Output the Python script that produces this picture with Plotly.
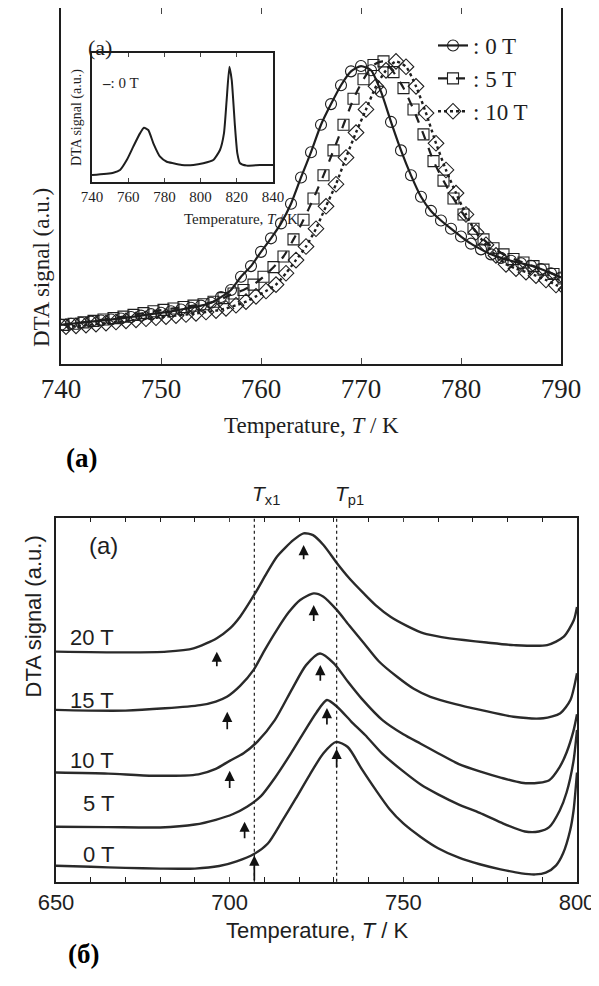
import plotly.graph_objects as go

# page has an 8px body margin: the figure is sized so that it fills the window exactly
OFF = 8
W, H = 599 - OFF, 986 - OFF

# ---------------- Panel (a): main plot data ----------------
T_main = list(range(740, 791))
dta_0T = [11.0, 11.3, 11.6, 11.9, 12.2, 12.5, 12.8, 13.2, 13.6, 14.0, 14.4, 14.8, 15.3, 15.8, 16.4, 17.2,
          18.8, 20.8, 24.5, 27.5, 31.5, 35.3, 39.5, 45.0, 52.4, 59.5, 67.2, 73.0, 78.3, 82.2, 83.7, 82.5,
          76.5, 68.0, 60.0, 53.0, 47.0, 43.0, 40.3, 38.0, 35.8, 33.8, 32.2, 30.8, 29.8, 29.0, 28.3, 27.6,
          26.7, 25.5, 24.3]
dta_5T = [11.0, 11.3, 11.7, 12.1, 12.5, 12.9, 13.3, 13.8, 14.3, 14.8, 15.2, 15.6, 16.0, 16.4, 16.8, 17.5,
          18.5, 19.8, 20.8, 22.3, 24.5, 27.2, 30.2, 35.0, 40.5, 46.5, 53.0, 60.0, 67.2, 74.5, 80.0, 84.0,
          85.0, 82.0, 77.5, 71.5, 64.5, 57.0, 51.5, 46.5, 42.0, 38.0, 35.0, 32.5, 30.8, 29.5, 28.5, 27.5,
          26.5, 25.3, 24.0]
dta_10T = [10.5, 10.7, 10.9, 11.2, 11.5, 11.8, 12.1, 12.4, 12.7, 13.0, 13.3, 13.6, 13.9, 14.2, 14.6, 15.0,
           15.6, 16.5, 17.5, 19.0, 20.5, 22.3, 25.5, 29.2, 33.0, 38.0, 44.3, 50.5, 58.0, 65.0, 71.5, 78.0,
           82.5, 85.0, 83.5, 78.0, 70.5, 62.0, 54.5, 48.0, 42.0, 37.0, 33.5, 30.5, 28.0, 26.8, 25.8, 24.8,
           23.6, 22.2, 21.0]

# ---------------- Panel (a): inset data ----------------
T_inset = [740, 751.8, 755.5, 759.2, 762.8, 766.5, 768.7, 771.1, 773.9, 777.6, 781.3, 784.9, 789.6, 796,
           801.5, 807, 810.7, 812.9, 814.4, 815.9, 817.2, 819, 820.3, 821.8, 825.5, 832.8, 840]
dta_inset = [5.4, 7.2, 9.3, 17, 27.4, 37.7, 42.1, 40.3, 30, 19.6, 15.7, 14.5, 13.2, 13.2, 14.5, 17, 24.8,
             37.7, 63.6, 89.4, 79, 42.9, 22.2, 14.5, 12.7, 13.2, 13.2]

# ---------------- Panel (б) data ----------------
T_b0 = [650, 660, 670, 680, 690, 697, 702, 707, 711, 715, 719, 723, 727, 730.7, 734, 738, 742, 746, 750,
        755, 760, 766, 772, 778, 784, 788, 791, 794, 796, 798, 799, 800]
v_b0 = [4.4, 4.1, 3.8, 3.6, 3.6, 4.3, 5.6, 7.6, 10.5, 16.5, 22.8, 29.3, 35.3, 38.4, 37.0, 31.0, 25.3, 20.0,
        16.0, 12.3, 9.2, 6.6, 4.8, 3.4, 2.3, 2.0, 2.5, 4.5, 7.8, 14.0, 19.5, 30.0]
T_b5 = [650, 665, 680, 690, 696, 701, 705, 709, 713, 717, 721, 725, 728, 731, 735, 739, 744, 750, 755, 760,
        766, 772, 778, 785, 789, 792, 795, 797, 799, 800]
v_b5 = [15.1, 15.0, 14.9, 15.7, 17.0, 18.6, 20.6, 23.5, 28.5, 34.3, 40.5, 46.5, 49.9, 48.0, 44.0, 40.3,
        35.1, 30.3, 26.7, 24.0, 21.2, 18.9, 16.3, 13.8, 13.8, 15.0, 19.5, 24.5, 33.2, 41.7]
T_b10 = [650, 665, 678, 691, 696, 700, 704, 708, 713, 718, 722, 726, 730, 734, 738, 744, 750, 755, 760, 766,
         772, 778, 784, 789, 792, 795, 797, 799, 800]
v_b10 = [30, 29.7, 29.1, 29.5, 31.0, 33.2, 35.3, 38.5, 44.4, 53.0, 59.5, 62.7, 60.0, 55.0, 50.3, 44.4, 40.5,
         37.9, 35.3, 32.3, 30.3, 28.6, 27.2, 27.2, 27.9, 31.5, 35.5, 41.5, 46.0]
T_b15 = [650, 670, 691.5, 696, 699.2, 703, 706.9, 710, 713.6, 717, 720.3, 724.2, 727, 730.9, 734.5, 738.6,
         743, 748.2, 753, 757.8, 765, 772.2, 781.7, 790.3, 795.2, 798.1, 800]
v_b15 = [47.2, 47.0, 48.5, 49.5, 50.8, 53.8, 58.2, 63.5, 69.2, 74.0, 77.4, 79.2, 78.3, 74.6, 70.3, 65.6,
         60.5, 56.3, 53.0, 50.8, 48.8, 47.2, 45.3, 44.9, 46.3, 49.9, 57.3]
T_b20 = [650, 670, 681.9, 689.6, 696.3, 700, 703, 707.3, 710.5, 713.6, 718.4, 721.3, 724, 727, 730.9, 734.5,
         738.6, 742, 746.3, 751, 755.9, 761, 767.4, 774, 781.8, 791.4, 796.2, 799.1, 800]
v_b20 = [63.2, 63.0, 63.2, 64.1, 66.9, 69.5, 72.8, 79.2, 84.5, 89.3, 93.9, 95.7, 95.2, 92.5, 87.5, 83.3,
         79.2, 76.0, 72.8, 70.3, 68.2, 67.2, 66.4, 65.7, 65.0, 65.0, 67.3, 71.9, 75.5]

field_labels = ["20 T", "15 T", "10 T", "5 T", "0 T"]
label_v = [67.0, 49.9, 33.2, 21.6, 7.6]
label_T = 667.3

# arrows (order: 0, 5, 10, 15, 20 T)
tx_T = [707.1, 704.3, 700.0, 699.3, 696.3]
tx_tip = [7.2, 16.5, 30.5, 46.7, 63.2]
tx_tail = [0.0, 11.5, 25.3, 41.5, 58.8]
tp_T = [730.8, 728.0, 726.1, 724.2, 721.3]
tp_tip = [36.5, 47.7, 59.5, 76.0, 92.5]
tp_tail = [31.0, 42.8, 54.8, 71.2, 88.2]

T_x1 = 707.1
T_p1 = 730.8

main_ticks = [740, 750, 760, 770, 780, 790]
inset_ticks = [740, 760, 780, 800, 820, 840]

SERIF = "Liberation Serif"
SANS = "Liberation Sans"
INK = "#1e1e1e"


def px2x(p):
    return (p - OFF) / W


def py2y(p):
    return 1 - (p - OFF) / H


fig = go.Figure()

# top main traces
fig.add_trace(go.Scatter(x=T_main, y=dta_0T, mode="lines+markers", name=": 0 T",
                         line=dict(color=INK, width=2.2, shape="spline", smoothing=0.6),
                         marker=dict(symbol="circle-open", size=11, color=INK, line=dict(width=1.1)),
                         xaxis="x", yaxis="y"))
fig.add_trace(go.Scatter(x=[t + 0.25 for t in T_main], y=dta_5T, mode="lines+markers", name=": 5 T",
                         line=dict(color=INK, width=2.2, dash="dash", shape="spline", smoothing=0.6),
                         marker=dict(symbol="square-open", size=11, color=INK, line=dict(width=1.1)),
                         xaxis="x", yaxis="y"))
fig.add_trace(go.Scatter(x=[t + 0.5 for t in T_main], y=dta_10T, mode="lines+markers", name=": 10 T",
                         line=dict(color=INK, width=2.4, dash="dot", shape="spline", smoothing=0.6),
                         marker=dict(symbol="diamond-open", size=12, color=INK, line=dict(width=1.1)),
                         xaxis="x", yaxis="y"))

# inset trace
fig.add_trace(go.Scatter(x=T_inset, y=dta_inset, mode="lines", showlegend=False,
                         line=dict(color=INK, width=2, shape="spline", smoothing=0.5),
                         xaxis="x2", yaxis="y2"))

# bottom traces
for tt, vv in [(T_b0, v_b0), (T_b5, v_b5), (T_b10, v_b10), (T_b15, v_b15), (T_b20, v_b20)]:
    fig.add_trace(go.Scatter(x=tt, y=vv, mode="lines", showlegend=False,
                             line=dict(color="#2a2a2a", width=2.4, shape="spline", smoothing=0.7),
                             xaxis="x3", yaxis="y3"))

frame = dict(showline=True, linecolor=INK, linewidth=1.5, mirror="ticks",
             showgrid=False, zeroline=False, automargin=False)

fig.update_layout(
    width=W, height=H, autosize=False,
    margin=dict(l=0, r=0, t=0, b=0, pad=0, autoexpand=False),
    paper_bgcolor="white", plot_bgcolor="white",
    xaxis=dict(domain=[px2x(61), px2x(561)], range=[740, 790], tickvals=main_ticks, ticks="inside",
               ticklen=6, tickwidth=1, tickfont=dict(family=SERIF, size=27, color=INK),
               anchor="y", **frame),
    yaxis=dict(domain=[py2y(364), py2y(8)], range=[0, 100], showticklabels=False,
               ticks="", anchor="x", **frame),
    xaxis2=dict(domain=[px2x(92), px2x(273)], range=[740, 840], tickvals=inset_ticks, ticks="inside",
                ticklen=4, tickwidth=1, tickfont=dict(family=SERIF, size=15, color=INK),
                anchor="y2", **frame),
    yaxis2=dict(domain=[py2y(182), py2y(53)], range=[0, 100], showticklabels=False,
                ticks="", anchor="x2", **frame),
    xaxis3=dict(domain=[px2x(56), px2x(577)], range=[650, 800], dtick=50, tick0=650, ticks="inside",
                ticklen=5, tickwidth=1, tickfont=dict(family=SANS, size=22, color=INK),
                minor=dict(dtick=10, tick0=650, ticks="inside", ticklen=5, tickwidth=1, tickcolor=INK,
                           showgrid=False),
                anchor="y3", **frame),
    yaxis3=dict(domain=[py2y(881.7), py2y(517.7)], range=[0, 100], showticklabels=False,
                ticks="", anchor="x3", **frame),
    legend=dict(x=px2x(433), y=py2y(24), xanchor="left", yanchor="top",
                bgcolor="rgba(0,0,0,0)", borderwidth=0, tracegroupgap=0,
                font=dict(family=SERIF, size=23, color=INK), itemwidth=30),
    showlegend=True,
)

ann = []
# top panel texts
ann.append(dict(text="DTA signal (a.u.)", x=px2x(27), y=py2y(186), xref="paper", yref="paper",
                textangle=-90, showarrow=False, font=dict(family=SERIF, size=23, color=INK)))
ann.append(dict(text="Temperature, <i>T</i> / K", x=px2x(311), y=py2y(425), xref="paper", yref="paper",
                showarrow=False, font=dict(family=SERIF, size=23, color=INK)))
ann.append(dict(text="(a)", x=px2x(86), y=py2y(33), xref="paper", yref="paper",
                showarrow=False, font=dict(family=SERIF, size=22, color=INK)))
ann.append(dict(text="<b>(a)</b>", x=px2x(64), y=py2y(458), xref="paper", yref="paper",
                showarrow=False, font=dict(family=SERIF, size=27, color="black")))
# inset texts
ann.append(dict(text="DTA signal (a.u.)", x=px2x(77), y=py2y(118), xref="paper", yref="paper",
                xanchor="center", yanchor="middle",
                textangle=-90, showarrow=False, font=dict(family=SERIF, size=14, color=INK)))
ann.append(dict(text="Temperature, <i>T</i> / K", x=px2x(182), y=py2y(209), xref="paper", yref="paper",
                showarrow=False, font=dict(family=SERIF, size=15, color=INK)))
ann.append(dict(text="<b>–</b>: 0 T", x=px2x(100), y=py2y(73), xref="paper", yref="paper",
                xanchor="left", showarrow=False, font=dict(family=SERIF, size=15, color=INK)))
# bottom panel texts
ann.append(dict(text="DTA signal (a.u.)", x=px2x(18), y=py2y(700), xref="paper", yref="paper",
                textangle=-90, showarrow=False, font=dict(family=SANS, size=22, color=INK)))
ann.append(dict(text="Temperature, <i>T</i> / K", x=px2x(317), y=py2y(945), xref="paper", yref="paper",
                showarrow=False, font=dict(family=SANS, size=22, color=INK)))
ann.append(dict(text="(a)", x=px2x(87), y=py2y(545), xref="paper", yref="paper",
                showarrow=False, font=dict(family=SANS, size=24, color=INK)))
ann.append(dict(text="<b>(б)</b>", x=px2x(66), y=py2y(971), xref="paper", yref="paper",
                showarrow=False, font=dict(family=SERIF, size=27, color="black")))
ann.append(dict(text="<i>T</i><sub>x1</sub>", x=T_x1, y=py2y(495), xref="x3", yref="paper",
                xanchor="left", xshift=-4, showarrow=False, font=dict(family=SANS, size=21, color=INK)))
ann.append(dict(text="<i>T</i><sub>p1</sub>", x=T_p1, y=py2y(495), xref="x3", yref="paper",
                xanchor="left", xshift=-4, showarrow=False, font=dict(family=SANS, size=21, color=INK)))
for lab, v in zip(field_labels, label_v):
    ann.append(dict(text=lab, x=label_T, y=v, xref="x3", yref="y3", xanchor="right",
                    showarrow=False, font=dict(family=SANS, size=22, color=INK)))
for Ts, tips, tails in [(tx_T, tx_tip, tx_tail), (tp_T, tp_tip, tp_tail)]:
    for t, tip, tail in zip(Ts, tips, tails):
        ann.append(dict(text="", x=t, y=tip, ax=t, ay=tail, xref="x3", yref="y3",
                        axref="x3", ayref="y3", showarrow=True, arrowhead=2, arrowsize=1.2,
                        arrowwidth=1.7, arrowcolor="#111", standoff=0, startstandoff=0))

fig.update_layout(annotations=ann)

shapes = []
for t in [T_x1, T_p1]:
    shapes.append(dict(type="line", x0=t, x1=t, y0=0, y1=1, xref="x3", yref="y3 domain",
                       line=dict(color=INK, width=1.2, dash="dot")))
fig.update_layout(shapes=shapes)

fig.write_html("out.html")
